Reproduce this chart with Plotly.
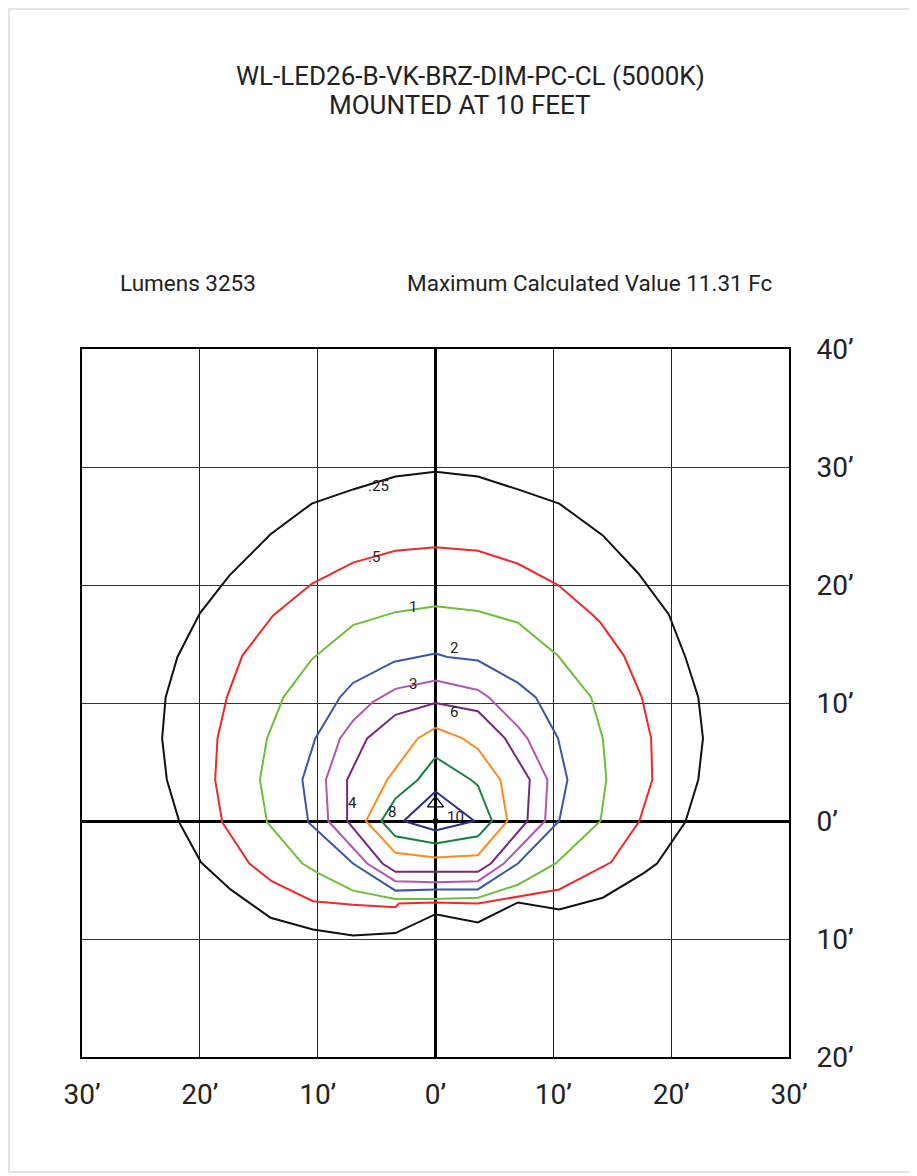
import plotly.graph_objects as go

# ---- data (feet) ----
c025_x = [0, -3.4, -7.0, -10.5, -14.0, -17.5, -20.0, -21.9, -22.9, -23.2, -22.8, -21.7, -19.9, -17.4, -14.0, -10.4, -7.0, -3.4, 0,
          3.6, 7.0, 10.5, 14.2, 17.7, 18.8, 21.2, 22.3, 22.7, 22.3, 21.2, 19.8, 17.2, 14.2, 10.5, 7.0, 3.6, 0]
c025_y = [29.6, 29.2, 28.1, 26.9, 24.3, 20.8, 17.6, 13.9, 10.5, 7.0, 3.5, -0.2, -3.5, -5.8, -8.2, -9.2, -9.7, -9.5, -7.9,
          -8.6, -6.9, -7.5, -6.5, -4.4, -3.6, -0.1, 3.5, 7.0, 10.5, 13.9, 17.5, 21.0, 24.2, 26.9, 28.1, 29.2, 29.6]

c05_x = [0, -3.4, -7.0, -8.7, -10.5, -13.8, -16.4, -17.7, -18.5, -18.7, -18.1, -15.8, -13.9, -10.4, -7.0, -3.4, -3.1, 0,
         3.6, 10.5, 14.2, 14.9, 17.3, 18.4, 18.3, 17.5, 16.0, 14.0, 13.3, 10.4, 7.0, 3.6, 0]
c05_y = [23.2, 22.9, 21.9, 21.0, 20.1, 17.4, 14.0, 10.5, 7.0, 3.5, -0.1, -3.6, -5.1, -6.8, -7.1, -7.3, -7.0, -6.9,
         -7.0, -5.8, -3.9, -3.5, 0.0, 3.5, 7.0, 10.5, 14.0, 16.8, 17.5, 20.0, 21.8, 22.9, 23.2]

c1_x = [0, -3.4, -7.0, -10.5, -12.9, -14.3, -14.9, -14.3, -11.3, -10.0, -7.0, -3.4, 0,
        3.6, 7.0, 10.2, 14.0, 14.5, 14.2, 13.2, 10.4, 7.0, 3.6, 0]
c1_y = [18.2, 17.7, 16.6, 13.7, 10.5, 7.0, 3.5, -0.1, -3.6, -4.4, -5.9, -6.6, -6.6,
        -6.5, -5.4, -3.6, 0.0, 3.5, 7.0, 10.5, 14.0, 16.8, 17.8, 18.2]

c2_x = [0, -3.5, -7.0, -8.1, -10.2, -11.3, -10.8, -7.0, -3.4, 0,
        3.6, 7.0, 10.5, 11.2, 10.4, 8.5, 7.0, 3.6, 1.0, 0]
c2_y = [14.2, 13.5, 11.7, 10.5, 7.0, 3.5, -0.1, -3.6, -5.9, -5.8,
        -5.8, -3.6, 0.0, 3.5, 7.0, 10.5, 11.7, 13.6, 13.9, 14.2]

c3_x = [0, -3.4, -5.3, -7.0, -8.1, -9.3, -9.1, -5.8, -3.4, 0,
        3.6, 5.8, 9.3, 9.5, 7.8, 7.0, 4.5, 3.6, 0]
c3_y = [11.9, 11.2, 10.1, 8.5, 7.0, 3.5, 0.0, -3.6, -5.1, -5.2,
        -5.1, -3.6, 0.0, 3.5, 7.0, 8.0, 10.5, 11.1, 11.9]

c4_x = [0, -3.4, -5.8, -7.5, -7.5, -4.5, -3.4, 0, 3.6, 4.7, 7.8, 8.0, 5.9, 3.6, 0]
c4_y = [10.0, 9.0, 7.0, 3.5, 0.0, -3.6, -4.3, -4.3, -4.3, -3.6, 0.0, 3.5, 7.0, 9.3, 10.0]

c6_x = [0, -1.5, -4.1, -5.9, -3.4, 0, 3.6, 6.1, 5.5, 3.6, 2.3, 0]
c6_y = [7.9, 7.0, 3.5, 0.0, -2.7, -3.1, -2.9, 0.0, 3.5, 6.1, 7.0, 7.9]

c8_x = [0, -1.5, -3.4, -4.6, -3.4, 0, 3.6, 4.8, 3.6, 3.0, 0]
c8_y = [5.4, 3.5, 1.9, 0.0, -1.3, -1.9, -1.3, 0.0, 3.0, 3.5, 5.4]

c10_x = [0, -2.7, 0, 3.3, 0]
c10_y = [2.5, 0.0, -0.8, 0.0, 2.5]

contours = [
    (c025_x, c025_y, "#111111"),
    (c05_x, c05_y, "#f02828"),
    (c1_x, c1_y, "#6cbf3c"),
    (c2_x, c2_y, "#3b55a8"),
    (c3_x, c3_y, "#b455b0"),
    (c4_x, c4_y, "#78267e"),
    (c6_x, c6_y, "#ff8a1e"),
    (c8_x, c8_y, "#178040"),
    (c10_x, c10_y, "#2a2d94"),
]

label_text = [".25", ".5", "1", "2", "3", "6", "4", "8", "10"]
label_x = [-4.84, -5.26, -1.87, 1.61, -1.87, 1.61, -7.05, -3.65, 1.7]
label_y = [28.4, 22.4, 18.1, 14.7, 11.6, 9.2, 1.5, 0.76, 0.34]

tick_vals_x = [-30, -20, -10, 0, 10, 20, 30]
tick_text_x = ["30’", "20’", "10’", "0’", "10’", "20’", "30’"]
tick_vals_y = [-20, -10, 0, 10, 20, 30, 40]
tick_text_y = ["20’", "10’", "0’", "10’", "20’", "30’", "40’"]

title_line1 = "WL-LED26-B-VK-BRZ-DIM-PC-CL (5000K)"
title_line2 = "MOUNTED AT 10 FEET"
lumens_text = "Lumens 3253"
max_text = "Maximum Calculated Value 11.31 Fc"

# page is offset 8px by the default body margin
OFF = 8
W, H = 905, 1166
PW, PH = 707, 708
L, T = 82 - OFF, 349 - OFF
R, B = W - L - PW, H - T - PH


def px_x(sx):  # screen x -> paper x
    return (sx - OFF - L) / PW


def px_y(sy):  # screen y -> paper y
    return 1 - (sy - OFF - T) / PH


fig = go.Figure()
for xs, ys, col in contours:
    fig.add_trace(go.Scatter(x=xs, y=ys, mode="lines", line=dict(color=col, width=2),
                             hoverinfo="skip", showlegend=False))

fig.add_trace(go.Scatter(x=[0], y=[1.5], mode="markers",
                         marker=dict(symbol="triangle-up-open", size=14, color="black", line=dict(width=1.2)),
                         hoverinfo="skip", showlegend=False))
fig.add_trace(go.Scatter(x=[0], y=[0], mode="markers",
                         marker=dict(symbol="square", size=5, color="black"),
                         hoverinfo="skip", showlegend=False))

for t, x, y in zip(label_text, label_x, label_y):
    fig.add_annotation(x=x, y=y, text=t, showarrow=False,
                       font=dict(family="Roboto", size=15, color="#222"))

fig.update_layout(
    width=W, height=H,
    margin=dict(l=L, r=R, t=T, b=B),
    plot_bgcolor="white", paper_bgcolor="white",
    xaxis=dict(range=[-30, 30], tickvals=tick_vals_x, ticktext=tick_text_x,
               showgrid=True, gridcolor="#222", gridwidth=1,
               zeroline=True, zerolinecolor="black", zerolinewidth=2.5,
               showline=True, mirror=True, linecolor="black", linewidth=2,
               ticks="", ticklabelstandoff=11,
               tickfont=dict(family="Roboto", size=28, color="#222"), fixedrange=True),
    yaxis=dict(range=[-20, 40], tickvals=tick_vals_y, ticktext=tick_text_y, side="right",
               showgrid=True, gridcolor="#333", gridwidth=1,
               zeroline=True, zerolinecolor="black", zerolinewidth=3,
               showline=True, mirror=True, linecolor="black", linewidth=2,
               ticks="", ticklabelstandoff=20,
               tickfont=dict(family="Roboto", size=28, color="#222"), fixedrange=True),
)

# titles
fig.add_annotation(xref="paper", yref="paper", x=px_x(470), y=px_y(76), xanchor="center", yanchor="middle",
                   text=title_line1, showarrow=False, font=dict(family="Roboto", size=26, color="#222"))
fig.add_annotation(xref="paper", yref="paper", x=px_x(460), y=px_y(105), xanchor="center", yanchor="middle",
                   text=title_line2, showarrow=False, font=dict(family="Roboto", size=26, color="#222"))

# header texts
fig.add_annotation(xref="paper", yref="paper", x=px_x(118), y=px_y(283),
                   xanchor="left", yanchor="middle", text=lumens_text, showarrow=False,
                   font=dict(family="Roboto", size=22.5, color="#222"))
fig.add_annotation(xref="paper", yref="paper", x=px_x(405), y=px_y(283),
                   xanchor="left", yanchor="middle", text=max_text, showarrow=False,
                   font=dict(family="Roboto", size=22.5, color="#222"))

# page border
fig.add_shape(type="rect", xref="paper", yref="paper",
              x0=(1 - L) / PW, x1=(W - 2 - L) / PW, y0=-(H - 2 - T - PH) / PH, y1=1 + (T - 1) / PH,
              line=dict(color="#e4e4e4", width=2), fillcolor="rgba(0,0,0,0)", layer="below")

fig.write_html("out.html")
